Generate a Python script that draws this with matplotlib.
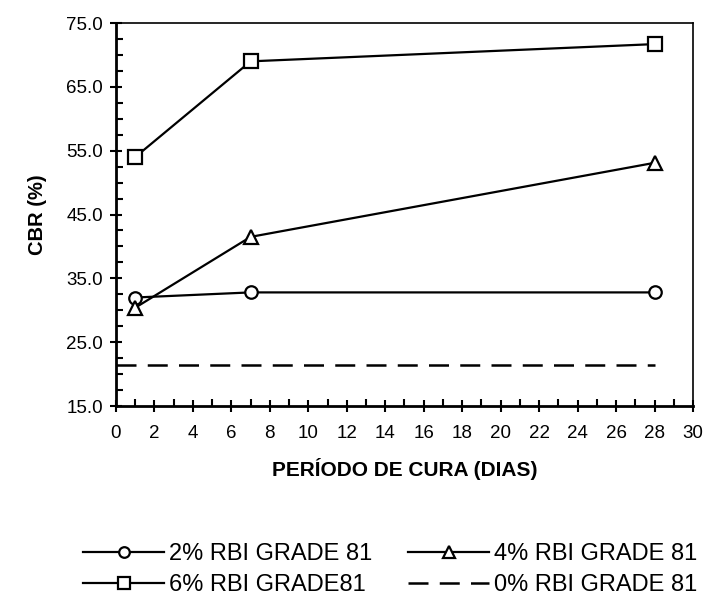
import matplotlib
matplotlib.use("Agg")
import matplotlib.pyplot as plt
from matplotlib.ticker import MultipleLocator, FixedLocator, FormatStrFormatter

plt.rcParams['font.family'] = ['Liberation Sans', 'DejaVu Sans']

days = [1, 7, 28]
cbr_2 = [32.0, 32.8, 32.8]
cbr_4 = [30.4, 41.5, 53.1]
cbr_6 = [54.0, 69.0, 71.7]
days_0 = [0, 1, 7, 28]
cbr_0 = [21.4, 21.4, 21.4, 21.4]
y_ticks = [15.0, 25.0, 35.0, 45.0, 55.0, 65.0, 75.0]

fig = plt.figure(figsize=(7.09, 5.97), dpi=100)
ax = fig.add_axes([0.1636, 0.3199, 0.8138, 0.6415])

lw = 1.6
l2, = ax.plot(days, cbr_2, color='black', lw=lw, marker='o', ms=9, mfc='white', mec='black', mew=1.6, label='2% RBI GRADE 81')
l4, = ax.plot(days, cbr_4, color='black', lw=lw, marker='^', ms=10, mfc='white', mec='black', mew=1.6, label='4% RBI GRADE 81')
l6, = ax.plot(days, cbr_6, color='black', lw=lw, marker='s', ms=10, mfc='white', mec='black', mew=1.6, label='6% RBI GRADE81')
l0, = ax.plot(days_0, cbr_0, color='black', lw=1.8, linestyle=(0, (8, 4.5)), label='0% RBI GRADE 81')

ax.set_xlim(0, 30)
ax.set_ylim(15, 75)
ax.xaxis.set_major_locator(MultipleLocator(2))
ax.xaxis.set_minor_locator(MultipleLocator(1))
ax.yaxis.set_major_locator(FixedLocator(y_ticks))
ax.yaxis.set_minor_locator(MultipleLocator(2.5))
ax.yaxis.set_major_formatter(FormatStrFormatter('%.1f'))

for s in ax.spines.values():
    s.set_linewidth(1.2)
ax.spines['left'].set_linewidth(2)
ax.spines['bottom'].set_linewidth(2)

ax.tick_params(axis='both', which='major', direction='inout', length=9, width=1.5, labelsize=13.5)
ax.tick_params(axis='x', which='major', pad=9)
ax.tick_params(axis='y', which='major', pad=5)
ax.tick_params(axis='both', which='minor', direction='in', length=5, width=1.5)

ax.set_xlabel('PERÍODO DE CURA (DIAS)', fontsize=15, fontweight='bold', labelpad=12)
ax.set_ylabel('CBR (%)', fontsize=14.5, fontweight='bold', labelpad=14)

leg = fig.legend(handles=[l2, l6, l4, l0], loc='upper left', bbox_to_anchor=(0.117, 0.09), ncol=2,
                 frameon=False, fontsize=17, handlelength=3.45, columnspacing=1.5,
                 handletextpad=0.2, markerscale=0.85, labelspacing=0.38,
                 borderpad=0, borderaxespad=0)

fig.savefig('out.png', dpi=100)
